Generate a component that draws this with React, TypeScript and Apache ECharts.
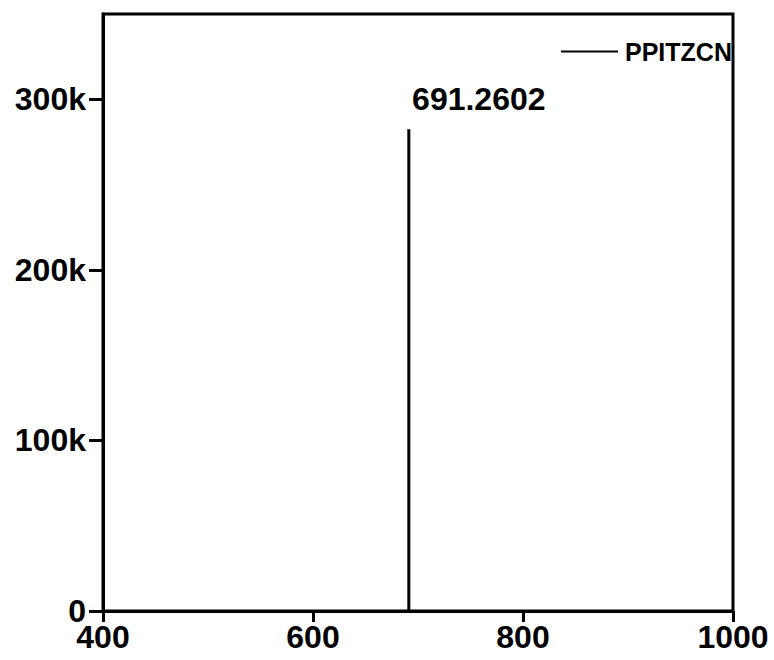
import React, { useEffect, useRef } from "react";
import * as echarts from "echarts";

const seriesName = "PPITZCN";
const peakMz = [691.2602, 691.2602];
const peakIntensity = [0, 282500];
const peakLabel = "691.2602";
const xTicks = [400, 600, 800, 1000];
const yTicks = [0, 100000, 200000, 300000];

export default function App() {
  const ref = useRef<HTMLDivElement>(null);
  useEffect(() => {
    if (!ref.current) return;
    const chart = echarts.init(ref.current, null, { renderer: "svg" });
    const font = "'Liberation Sans', Arial, sans-serif";
    const data = peakMz.map((x, i) => [x, peakIntensity[i]]);
    const top = data[data.length - 1];
    chart.setOption({
      animation: false,
      backgroundColor: "#fff",
      grid: {
        left: 103,
        right: 41,
        top: 14,
        bottom: 49,
        show: true,
        borderColor: "#000",
        borderWidth: 3,
      },
      legend: {
        show: true,
        left: 556,
        top: 34,
        itemWidth: 57,
        itemHeight: 2,
        itemGap: 10,
        icon: "rect",
        itemStyle: { color: "#000", opacity: 1 },
        data: [{ name: seriesName, icon: "rect", itemStyle: { color: "#000", opacity: 1 } }],
        textStyle: { fontSize: 25, fontWeight: "bold", fontFamily: font, color: "#000", padding: [0, 0, 0, 2] },
      },
      xAxis: {
        type: "value",
        min: 400,
        max: 1000,
        interval: 200,
        splitLine: { show: false },
        axisLine: { show: true, onZero: false, lineStyle: { color: "#000", width: 3 } },
        axisTick: { show: true, length: 11, lineStyle: { color: "#000", width: 3 }, customValues: xTicks },
        axisLabel: {
          customValues: xTicks,
          margin: 13,
          fontSize: 32,
          lineHeight: 26,
          fontWeight: "bold",
          fontFamily: font,
          color: "#000",
          formatter: (v: number) => String(v),
        },
      },
      yAxis: {
        type: "value",
        min: 0,
        max: 350000,
        interval: 100000,
        splitLine: { show: false },
        axisLine: { show: true, onZero: false, lineStyle: { color: "#000", width: 3 } },
        axisTick: { show: true, length: 14, lineStyle: { color: "#000", width: 3 }, customValues: yTicks },
        axisLabel: {
          customValues: yTicks,
          margin: 17,
          fontSize: 32,
          lineHeight: 24,
          fontWeight: "bold",
          fontFamily: font,
          color: "#000",
          formatter: (v: number) => (v === 0 ? "0" : v / 1000 + "k"),
        },
      },
      series: [
        {
          name: seriesName,
          type: "line",
          data,
          showSymbol: false,
          symbol: "none",
          lineStyle: { color: "#000", width: 3 },
          itemStyle: { color: "#000" },
          markPoint: {
            symbol: "circle",
            symbolSize: 1,
            itemStyle: { color: "rgba(0,0,0,0)" },
            label: {
              show: true,
              formatter: peakLabel,
              position: "top",
              offset: [70, -9],
              fontSize: 32,
              fontWeight: "bold",
              fontFamily: font,
              color: "#000",
            },
            data: [{ coord: top }],
          },
        },
      ],
    });
    return () => chart.dispose();
  }, []);
  return <div ref={ref} style={{ width: 774, height: 660, position: "absolute", left: 0, top: 0 }} />;
}
